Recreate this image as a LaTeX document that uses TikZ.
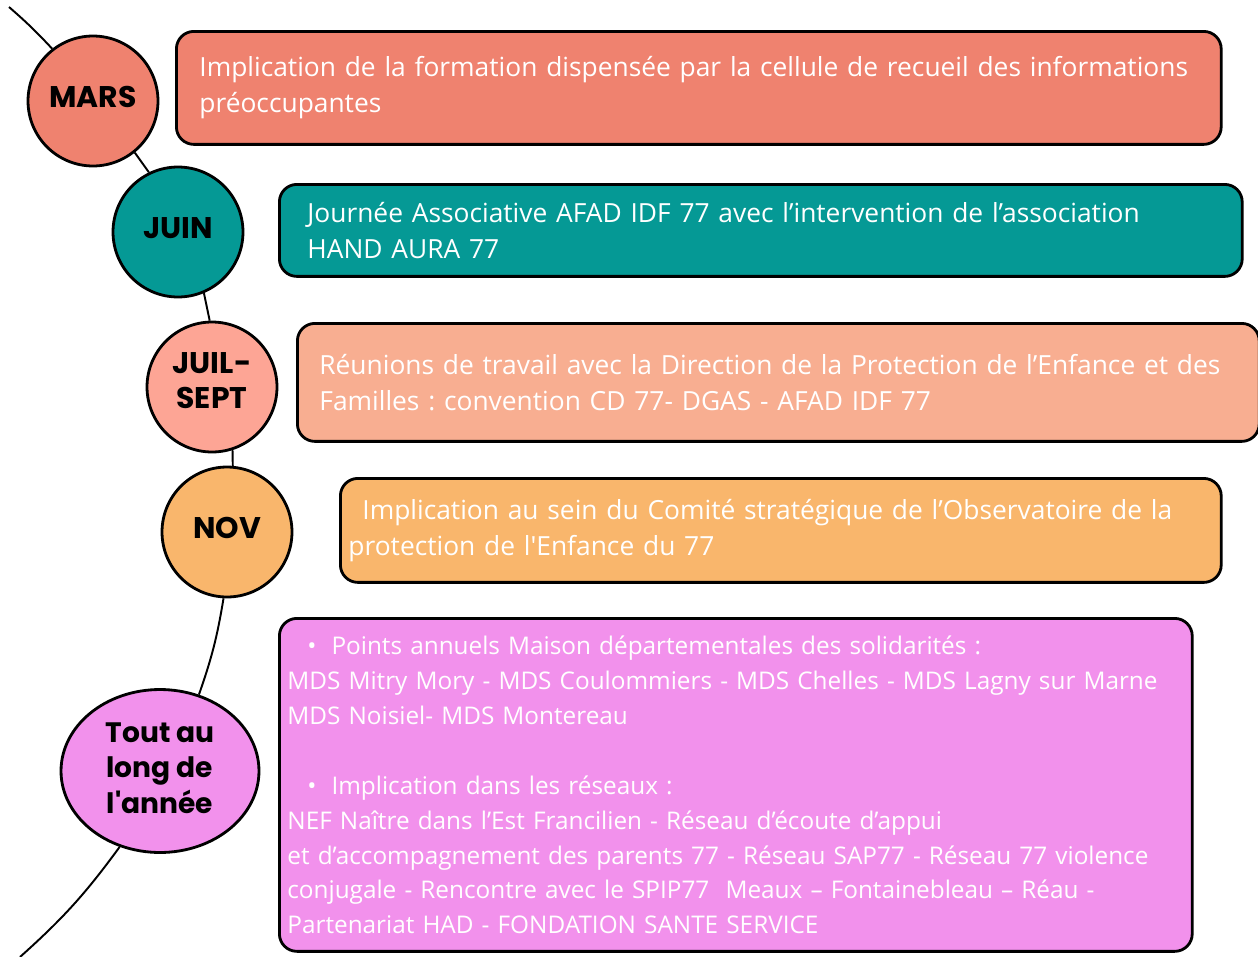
\documentclass[tikz,border=0pt]{standalone}
\usepackage{fontspec}
\setmainfont{Open Sans}
\newfontfamily\labfont{Poppins}
\usepackage{tikz}
\usetikzlibrary{positioning,shapes.geometric}
\definecolor{marsred}{HTML}{EF826F}
\definecolor{juinteal}{HTML}{059995}
\definecolor{juilpink}{HTML}{FDA595}
\definecolor{juilpeach}{HTML}{F8AE91}
\definecolor{novorange}{HTML}{F9B66C}
\definecolor{toutviolet}{HTML}{F291EC}
\frenchspacing

\begin{document}
\begin{tikzpicture}[x=0.02cm, y=-0.02cm,
  month/.style={circle, draw, line width=1.6pt, minimum size=2.6cm, inner sep=0pt,
    text depth=0.16cm, font=\labfont\bfseries\fontsize{17}{19.8}\selectfont, align=center},
  event/.style={draw, line width=1.6pt, rounded corners=0.35cm, anchor=north west,
    text=white, align=left, font=\fontsize{15}{20.4}\selectfont},
  link/.style={line width=1.1pt}]
  \useasboundingbox (0,0) rectangle (1258,957);
  % timeline months
  \node[month, fill=marsred] (mars) at (93,101) {MARS};
  \node[month, fill=juinteal] (juin) at (178,232) {JUIN};
  \node[month, fill=juilpink, text depth=0.25cm] (juil) at (212,387) {JUIL-\\SEPT};
  \node[month, fill=novorange] (nov) at (227,532) {NOV};
  \node[month, ellipse, fill=toutviolet, minimum width=3.96cm, minimum height=3.26cm,
    text depth=0.12cm, font=\labfont\bfseries\fontsize{16}{20.4}\selectfont]
    (tout) at (160,771) {Tout au\\long de\\l\textquotesingle année};
  % arc through the months
  \coordinate (top) at (9,7);
  \coordinate (bottom) at (20,957);
  \draw[link] (top) to[bend left=3] (mars.128);
  \draw[link] (mars.-51) -- (juin.116);
  \draw[link] (juin.-67) -- (juil.92);
  \draw[link] (juil.-72) -- (nov.85);
  \draw[link] (nov.-93) to[bend left=5] (tout.63);
  \draw[link] (tout.-118) to[bend left=6] (bottom);
  % events
  \node[event, fill=marsred, inner xsep=0.46cm, text width=19.98cm, minimum height=2.26cm]
    (ev1) at (175,30) {Implication de la formation dispensée par la cellule de recueil des informations\\préoccupantes};
  \node[event, fill=juinteal, inner xsep=0.56cm, text width=18.14cm, minimum height=1.84cm]
    (ev2) at (278,183) {Journée Associative AFAD IDF 77 avec l’intervention de l’association\\HAND AURA 77};
  \node[event, fill=juilpeach, inner xsep=0.44cm, text width=18.36cm, minimum height=2.36cm]
    (ev3) at (296,322) {Réunions de travail avec la Direction de la Protection de l’Enfance et des\\Familles : convention CD 77- DGAS - AFAD IDF 77};
  \node[event, fill=novorange, inner xsep=0.16cm, text width=17.3cm, minimum height=2.08cm]
    (ev4) at (339,477) {\hspace*{0.28cm}Implication au sein du Comité stratégique de l’Observatoire de la\\protection de l\textquotesingle Enfance du 77};
  \node[event, fill=toutviolet, inner xsep=0.16cm, text width=17.94cm, minimum height=6.66cm,
    font=\fontsize{13.85}{19.9}\selectfont]
    (ev5) at (278,617) {\hspace*{0.4cm}•\hspace{0.3cm}Points annuels Maison départementales des solidarités :\\
    MDS Mitry Mory - MDS Coulommiers - MDS Chelles - MDS Lagny sur Marne\\
    MDS Noisiel- MDS Montereau\\[19.9pt]
    \hspace*{0.4cm}•\hspace{0.3cm}Implication dans les réseaux :\\
    NEF Naître dans l’Est Francilien - Réseau d’écoute d’appui\\
    et d’accompagnement des parents 77 - Réseau SAP77 - Réseau 77 violence\\
    conjugale - Rencontre avec le SPIP77~~Meaux – Fontainebleau – Réau -\\
    Partenariat HAD - FONDATION SANTE SERVICE};
\end{tikzpicture}
\end{document}
